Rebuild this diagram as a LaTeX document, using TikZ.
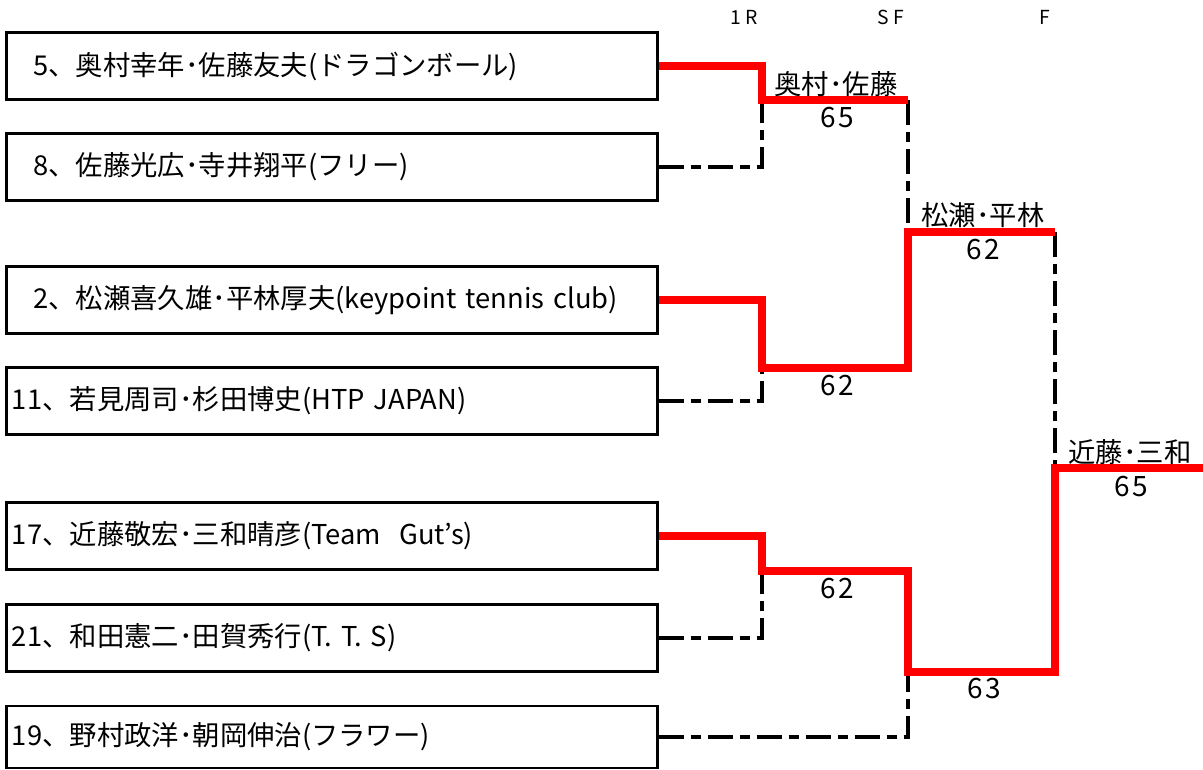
\documentclass[tikz,border=0pt]{standalone}
\usepackage{fontspec}
\setmainfont{Noto Sans CJK JP}
\newfontfamily\widefont[LetterSpace=22]{Noto Sans CJK JP}
\newfontfamily\scorefont[LetterSpace=8]{Noto Sans CJK JP}
\usepackage{tikz}
\usetikzlibrary{positioning,calc}

\begin{document}
\begin{tikzpicture}[x=0.75pt, y=-0.75pt,
    pair/.style={rectangle, draw, line width=2pt, minimum width=488pt, minimum height=#1, text width=480pt, inner xsep=4pt, inner ysep=0pt, align=left, font=\fontsize{20.5pt}{24pt}\selectfont},
    pair/.default=50pt,
    pairin/.style={pair, inner xsep=20pt, text width=448pt},
    win/.style={draw=red, line width=6pt},
    lose/.style={draw=black, line width=2.4pt, dash pattern=on 18.75pt off 5.25pt on 7.5pt off 5.25pt},
    result/.style={inner sep=0pt, font=\fontsize{20.5pt}{24pt}\selectfont},
    score/.style={inner sep=0pt, font=\scorefont\fontsize{21pt}{24pt}\selectfont},
    roundlbl/.style={inner sep=0pt, font=\widefont\fontsize{14.5pt}{16pt}\selectfont}
]
\useasboundingbox (0,0) rectangle (1203,769);

\node[pairin] (p1) at (332,66) {5、奥村幸年･佐藤友夫(ドラゴンボール)};
\node[pairin] (p2) at (332,167) {8、佐藤光広･寺井翔平(フリー)};
\node[pairin] (p3) at (332,300) {2、松瀬喜久雄･平林厚夫(keypoint tennis club)};
\node[pair] (p4) at (332,401) {11、若見周司･杉田博史(HTP JAPAN)};
\node[pair] (p5) at (332,536) {17、近藤敬宏･三和晴彦(Team\ \ Gut’s)};
\node[pair] (p6) at (332,638) {21、和田憲二･田賀秀行(T. T. S)};
\node[pair=46.5pt] (p7) at (332,737) {19、野村政洋･朝岡伸治(フラワー)};

\node[roundlbl] (r1) at (744,17) {1R};
\node[roundlbl] (sf) at (891,17) {SF};
\node[roundlbl] (f) at (1045,17) {F};

\coordinate (r1a) at (762,100);
\coordinate (s1e) at (908,100);
\coordinate (r1b) at (762,368);
\coordinate (r1c) at (762,571);
\coordinate (sf1) at (908,232);
\coordinate (sf1e) at (1055,232);
\coordinate (sf2) at (908,672);
\coordinate (fin) at (1055,468);
\coordinate (champ) at (1203,468);

\draw[lose] (p2.east) -| (r1a);
\draw[lose] (p4.east) -| (r1b);
\draw[lose] (p6.east) -| (r1c);
\draw[lose] (p7.east) -| (sf2);
\draw[lose] (s1e) -- (sf1);
\draw[lose] (sf1e) -- (fin);

\draw[win] (p1.east) -| (r1a) -- (s1e);
\draw[win] (p3.east) -| (r1b) -| (sf1) -- (sf1e);
\draw[win] (p5.east) -| (r1c) -| (sf2) -| (fin) -- (champ);

\node[result] (w1) at (836,84) {奥村･佐藤};
\node[score] (sc1) at (837,118) {65};
\node[score] (sc2) at (837,386) {62};
\node[score] (sc3) at (837,589) {62};
\node[result] (w2) at (983,215) {松瀬･平林};
\node[score] (sc4) at (983,250) {62};
\node[score] (sc5) at (984,689) {63};
\node[result] (w3) at (1130,452) {近藤･三和};
\node[score] (sc6) at (1131,487) {65};

\end{tikzpicture}
\end{document}
